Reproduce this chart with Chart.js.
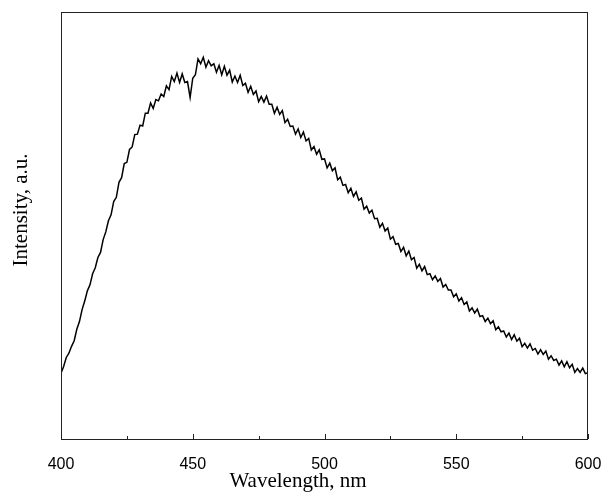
<!DOCTYPE html>
<html>
<head>
<meta charset="utf-8">
<script src="https://cdn.jsdelivr.net/npm/chart.js@4"></script>
<style>
  html, body { margin: 0; padding: 0; background: #fff; }
  #wrap { width: 603px; height: 492px; }
</style>
</head>
<body>
<div id="wrap"><canvas id="spectrum" width="603" height="492"></canvas></div>
<script>
// --- DATA ---
const X_MIN = 400, X_MAX = 600, X_STEP = 1;
const xTicks = [400, 450, 500, 550, 600];
const xMinorTicks = [425, 475, 525, 575];
const xTitle = 'Wavelength, nm';
const yTitle = 'Intensity, a.u.';

// intensity, one value per nm from 400 to 600 (a.u., 0..100 of frame height)
const intensity = [
  15.4, 17.0, 19.1, 20.1, 21.7, 23.0, 25.7, 27.5, 30.3, 32.3,
  34.7, 36.1, 38.7, 40.1, 42.5, 43.7, 46.7, 48.5, 51.1, 52.5,
  55.6, 56.6, 60.1, 61.2, 64.5, 64.8, 67.8, 68.4, 71.3, 71.4,
  73.5, 73.3, 76.3, 76.3, 78.7, 77.4, 79.5, 79.2, 80.8, 80.2,
  82.7, 81.8, 84.9, 83.7, 85.7, 83.5, 85.5, 83.5, 83.7, 80.0,
  84.5, 85.3, 89.0, 87.9, 89.4, 87.1, 88.6, 87.4, 87.9, 85.9,
  87.5, 85.3, 87.3, 85.2, 86.4, 83.6, 85.0, 83.5, 85.2, 82.8,
  83.3, 81.2, 82.6, 80.7, 81.5, 79.0, 80.2, 78.9, 80.3, 78.4,
  78.4, 76.3, 77.7, 76.0, 76.9, 74.1, 74.9, 73.2, 73.3, 71.4,
  72.6, 70.6, 71.9, 69.8, 70.4, 67.7, 68.5, 66.7, 67.7, 65.5,
  65.6, 63.5, 64.6, 62.8, 63.5, 60.7, 61.3, 59.4, 59.6, 57.7,
  58.7, 56.8, 57.9, 55.9, 56.4, 53.8, 54.5, 52.9, 53.6, 51.6,
  51.7, 49.6, 50.5, 48.7, 49.4, 46.8, 47.4, 45.6, 45.8, 43.9,
  44.9, 42.9, 44.0, 42.0, 42.5, 40.0, 40.9, 39.4, 40.4, 38.5,
  38.7, 37.3, 38.2, 36.9, 37.6, 35.6, 36.2, 34.9, 34.9, 33.3,
  34.0, 32.3, 33.1, 31.5, 32.1, 30.0, 30.7, 29.5, 30.4, 28.7,
  28.9, 27.5, 28.3, 27.0, 27.7, 25.6, 26.3, 25.1, 25.3, 23.9,
  24.8, 23.3, 24.4, 22.9, 23.6, 21.6, 22.4, 21.3, 22.3, 20.8,
  21.2, 19.9, 20.9, 19.8, 20.6, 18.7, 19.5, 18.4, 18.7, 17.3,
  18.3, 16.9, 18.1, 16.7, 17.5, 15.6, 16.5, 15.6, 16.6, 15.3,
  15.5
];

const wavelengths = [];
for (let w = X_MIN; w <= X_MAX; w += X_STEP) wavelengths.push(w);
const points = wavelengths.map((w, i) => ({ x: w, y: intensity[i] }));

// --- PLUGIN: frame, inward ticks, axis titles ---
const frameAndTitles = {
  id: 'frameAndTitles',
  afterDatasetsDraw(chart) {
    const { ctx, chartArea: a, scales } = chart;
    ctx.save();
    ctx.strokeStyle = '#222';
    ctx.lineWidth = 1;
    ctx.strokeRect(a.left + 0.5, a.top + 0.5, a.right - a.left - 1, a.bottom - a.top);
    // inward ticks on bottom axis
    ctx.beginPath();
    xTicks.forEach(v => {
      const px = Math.round(scales.x.getPixelForValue(v)) + 0.5;
      ctx.moveTo(px, a.bottom); ctx.lineTo(px, a.bottom - 5);
    });
    xMinorTicks.forEach(v => {
      const px = Math.round(scales.x.getPixelForValue(v)) + 0.5;
      ctx.moveTo(px, a.bottom); ctx.lineTo(px, a.bottom - 3);
    });
    ctx.stroke();
    // axis titles
    ctx.fillStyle = '#000';
    ctx.font = '21px "Liberation Serif", "Times New Roman", serif';
    ctx.textAlign = 'center';
    ctx.textBaseline = 'middle';
    ctx.fillText(xTitle, 298, 481);
    ctx.translate(21, 210);
    ctx.rotate(-Math.PI / 2);
    ctx.fillText(yTitle, 0, 0);
    ctx.restore();
  }
};

// --- CHART ---
const ctx = document.getElementById('spectrum').getContext('2d');
const spectrumChart = new Chart(ctx, {
  type: 'line',
  data: { datasets: [{ data: points, borderColor: '#000', borderWidth: 1.5, pointRadius: 0, tension: 0, fill: false }] },
  options: {
    responsive: false, animation: false,
    layout: { padding: { top: 12, right: 15, left: 0, bottom: 0 } },
    plugins: { legend: { display: false }, tooltip: { enabled: false } },
    scales: {
      x: {
        type: 'linear', min: X_MIN, max: X_MAX,
        grid: { display: false }, border: { display: false },
        afterBuildTicks: s => { s.ticks = xTicks.map(v => ({ value: v })); },
        ticks: { color: '#000', padding: 8, maxRotation: 0, font: { family: '"Liberation Sans", Arial, sans-serif', size: 16 } },
        afterFit: s => { s.height = 53; s.paddingLeft = 0; s.paddingRight = 0; }
      },
      y: {
        min: 0, max: 100,
        grid: { display: false }, border: { display: false },
        ticks: { display: false },
        afterFit: s => { s.width = 61; }
      }
    }
  },
  plugins: [frameAndTitles]
});
</script>
</body>
</html>
